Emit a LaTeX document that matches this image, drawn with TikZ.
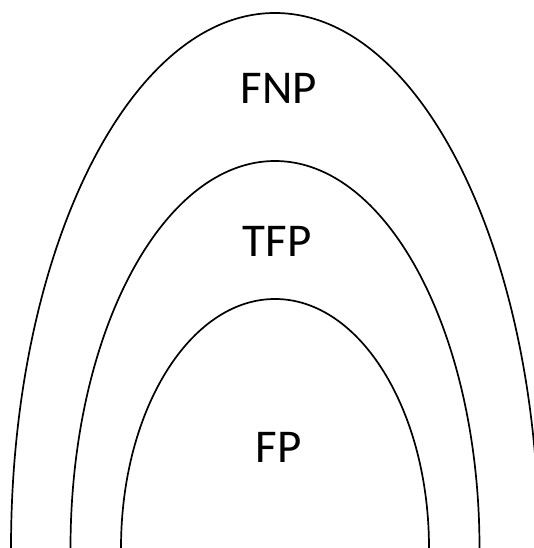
\documentclass[tikz,border=0pt]{standalone}
\usepackage{fontspec}
\setmainfont{Carlito}
\begin{document}
\begin{tikzpicture}[x=1pt,y=1pt,
  setline/.style={line width=1.7pt, draw=black},
  setlabel/.style={font=\fontsize{47}{50}\selectfont, anchor=base, inner sep=0pt}]
\useasboundingbox (0,0) rectangle (534,548);
\clip (0,0) rectangle (534,548);
\fill[white] (0,0) rectangle (534,548);
% outer FNP
\draw[setline] (11,0) arc[start angle=180, end angle=0, x radius=264, y radius=535];
% middle TFP
\draw[setline] (70.5,0) arc[start angle=180, end angle=0, x radius=204.5, y radius=387];
% inner FP
\draw[setline] (121,0) arc[start angle=180, end angle=0, x radius=154, y radius=249];
\node[setlabel] (fnp) at (279,444) {FNP};
\node[setlabel] (tfp) at (277,291) {TFP};
\node[setlabel] (fp) at (278.5,85) {FP};
\end{tikzpicture}
\end{document}
